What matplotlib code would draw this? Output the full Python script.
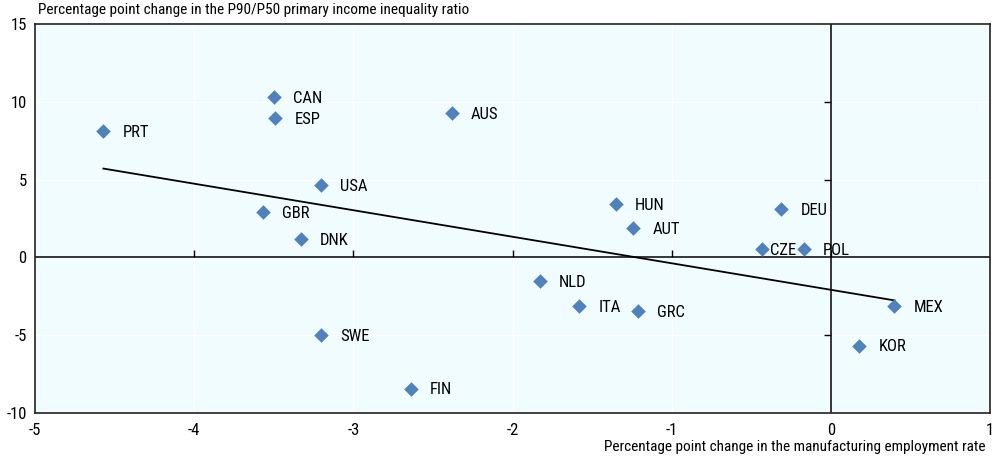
import numpy as np
import matplotlib.pyplot as plt

plt.rcParams['font.family'] = ['Roboto Condensed', 'Liberation Sans', 'DejaVu Sans']

countries = ["PRT", "CAN", "ESP", "AUS", "USA", "GBR", "DNK", "HUN", "AUT", "DEU",
             "CZE", "POL", "NLD", "ITA", "GRC", "MEX", "KOR", "SWE", "FIN"]
manuf_change = [-4.57, -3.50, -3.49, -2.38, -3.20, -3.57, -3.33, -1.35, -1.24, -0.31,
                -0.43, -0.17, -1.83, -1.58, -1.21, 0.40, 0.18, -3.20, -2.64]
ineq_change = [8.1, 10.28, 8.93, 9.25, 4.63, 2.89, 1.16, 3.41, 1.86, 3.08,
               0.51, 0.51, -1.54, -3.15, -3.47, -3.15, -5.66, -5.01, -8.42]
xticks = [-5, -4, -3, -2, -1, 0, 1]
yticks = [-10, -5, 0, 5, 10, 15]

blue = "#4F81BD"
fs = 12

fig = plt.figure(figsize=(10, 4.58), dpi=100)
ax = fig.add_axes([0.035, 0.098, 0.955, 0.85])
ax.set_facecolor("#F0FCFE")

ax.set_xlim(-5, 1)
ax.set_ylim(-10, 15)
ax.set_xticks(xticks)
ax.set_yticks(yticks)
ax.set_xticklabels([str(t) for t in xticks])
ax.set_yticklabels([str(t) for t in yticks])
ax.tick_params(length=0, labelsize=fs, pad=7)
ax.tick_params(axis='y', pad=6)
ax.grid(True, color="white", linewidth=1)
ax.set_axisbelow(True)
for s in ax.spines.values():
    s.set_color("#222222")
    s.set_linewidth(1.2)

# zero lines with small ticks
ax.axhline(0, color="black", linewidth=1.1, zorder=2)
ax.axvline(0, color="black", linewidth=1.1, zorder=2)
inner_x = [t for t in xticks if t not in (xticks[0], xticks[-1])]
inner_y = [t for t in yticks if t not in (0, yticks[0], yticks[-1])]
ax.plot(inner_x, [0] * len(inner_x), linestyle="none", marker=2,
        markersize=5, color="black", markeredgewidth=1, zorder=2)
ax.plot([0] * len(inner_y), inner_y, linestyle="none", marker=0,
        markersize=5, color="black", markeredgewidth=1, zorder=2)

# trend line
slope, inter = np.polyfit(manuf_change, ineq_change, 1)
xs = np.array([min(manuf_change), max(manuf_change)])
ax.plot(xs, slope * xs + inter, color="black", linewidth=1.3, zorder=3)

ax.scatter(manuf_change, ineq_change, marker="D", s=55, color=blue, zorder=4,
           linewidths=0)

for c, x, y in zip(countries, manuf_change, ineq_change):
    dx = 8 if c == "CZE" else 19
    ax.annotate(c, (x, y), xytext=(dx, -1), textcoords="offset pixels",
                va="center", ha="left", fontsize=fs, zorder=5)

fig.text(0.038, 0.978, "Percentage point change in the P90/P50 primary income inequality ratio",
         fontsize=11, va="center", ha="left")
fig.text(0.985, 0.024, "Percentage point change in the manufacturing employment rate",
         fontsize=11, va="center", ha="right")

plt.savefig("out.png")
